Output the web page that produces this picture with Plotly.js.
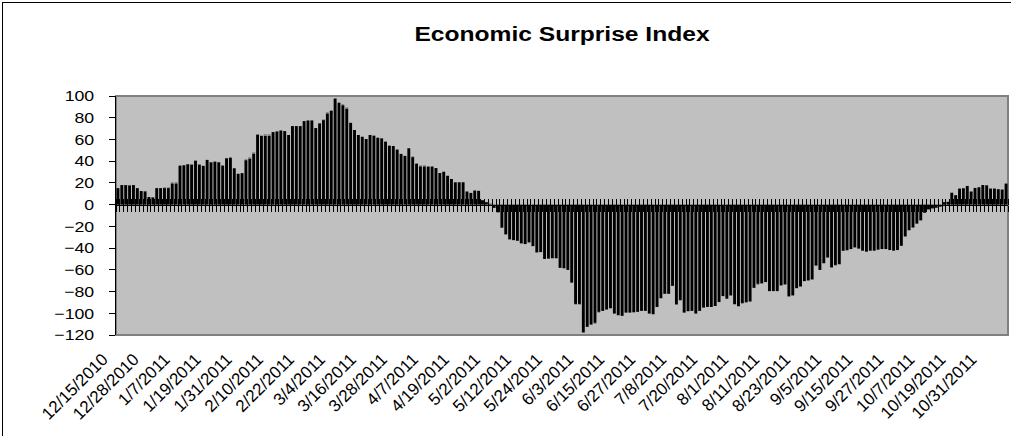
<!DOCTYPE html>
<html>
<head>
<meta charset="utf-8">
<script src="https://cdn.plot.ly/plotly-3.0.1.min.js"></script>
<style>
  html, body { margin: 0; padding: 0; background: #ffffff; }
  #wrap { position: relative; width: 1011px; height: 436px; overflow: hidden; }
  #chart { position: absolute; left: 0; top: 0; width: 1011px; height: 436px; }
  #frame { position: absolute; left: 2px; top: 2px; width: 1030px; height: 460px;
           border: 1px solid #000000; pointer-events: none; }
</style>
</head>
<body>
<div id="wrap">
  <div id="chart"></div>
  <div id="frame"></div>
</div>
<script>
// Economic surprise index, one bar per trading day
const startDate = '2010-12-15';
const skippedDays = ['2010-12-24', '2011-04-22', '2011-07-04', '2011-08-29'];
const labelEvery = 8;

const surprise = [
  15.2, 18, 18, 17.7, 18, 15.2, 12.5, 12.2, 7, 6.7,
  15.2, 15.2, 15.2, 15.2, 19.5, 19.5, 35.7, 36.3, 37.2, 36.9,
  40.5, 36.9, 35.7, 41.2, 39, 39.6, 39, 36, 42.7, 43.3,
  33.5, 28.4, 29, 40.9, 42.4, 47, 64.3, 63.2,
  63.5, 63.5, 66.8, 67.4, 68.3, 67.7, 64.1, 72.3, 72.3, 72.3,
  76.9, 77.5, 77.5, 70.5, 74.8, 77.8, 83.9, 86.3, 97.5, 93.6,
  91.5, 88.4, 75.3, 68.7, 64.1, 62.5, 60.4, 64.1, 63.5, 61.6,
  61, 58, 54.3, 54, 50.7, 46.7, 44.9, 51.9,
  43.7, 37.6, 35.2, 35.2, 34.9, 34.9, 33.7, 29.1, 30.3, 26.6,
  23.6, 20.6, 20.6, 20.6, 12.1, 10.8, 13, 12.7, 4.1, 2.3,
  0.5, -2.9, -6.9, -21.1, -27.2, -31.8, -32.7, -33.3, -35.7, -36.3,
  -34.8, -38.2, -44, -43.7, -50, -49.7, -49.4, -49.4, -58.2,
  -58.6, -60.1, -71.8, -91.4, -91.4, -117.5, -112.4, -110.3, -108.8, -98.7,
  -97.8, -96.6, -95.4, -100.3, -101.8, -102.4, -99.4, -99.4, -99.1, -98.7,
  -97.8, -97.8, -100.3, -100.9, -94.2, -85.9, -82, -82, -74.7, -91.7,
  -88, -99.4, -98.1, -97.8, -100.3, -97.8, -94.8, -94.2,
  -94.2, -93.3, -89.7, -84.2, -86.6, -83.6, -91.7, -93.3, -90.5, -89.7,
  -89, -76.5, -72.9, -72.3, -71.3, -79.6, -79.6, -79.6, -74.4, -73.5,
  -84.5, -83.6, -76.9, -75.4, -70.4, -69.8, -68.9, -56.1, -60.1, -53.7,
  -48.5, -57.6, -55.5, -54.6, -42.4, -41.8, -40.9, -39.4, -40.5,
  -42.4, -43.3, -42.4, -42.4, -41.5, -40.9, -40.9, -41.8, -42.4, -41.8,
  -37.9, -29.3, -23.6, -21.1, -17.5, -14.5, -7.5, -4.4, -3.5, -2.9,
  -1.9, 2.3, 2.6, 11, 8.7, 14.8, 15.1, 17.2, 12.1, 15.4,
  16, 18.1, 17.8, 14.8, 14.8, 14.2, 13.9, 19.4
];

const yRange = [-120, 100];

// Build the trading-day calendar (weekdays minus skipped days)
function buildDates(start, n, skip) {
  const out = [];
  const d = new Date(start + 'T12:00:00Z');
  while (out.length < n) {
    const dow = d.getUTCDay();
    const iso = d.toISOString().slice(0, 10);
    if (dow !== 0 && dow !== 6 && skip.indexOf(iso) < 0) {
      out.push((d.getUTCMonth() + 1) + '/' + d.getUTCDate() + '/' + d.getUTCFullYear());
    }
    d.setUTCDate(d.getUTCDate() + 1);
  }
  return out;
}

const dates = buildDates(startDate, surprise.length, skippedDays);
const idx = dates.map((_, i) => i);
const tickIdx = idx.filter(i => i % labelEvery === 0);
const tickText = tickIdx.map(i => dates[i]);

const FONT = 'Liberation Sans, Arial, sans-serif';
const xRange = [-0.5, dates.length - 0.5];
const zeroPos = (0 - yRange[0]) / (yRange[1] - yRange[0]);

const bars = {
  type: 'bar', x: idx, y: surprise, text: dates,
  marker: { color: '#000000', line: { width: 0 } },
  hoverinfo: 'skip', showlegend: false
};
// carriers for the zero-line category ticks (below and above the line)
const tickCarrierLow = { type: 'scatter', mode: 'markers', x: idx, y: surprise, xaxis: 'x2',
  marker: { opacity: 0 }, hoverinfo: 'skip', showlegend: false };
const tickCarrierHigh = { type: 'scatter', mode: 'markers', x: idx, y: surprise, xaxis: 'x3',
  marker: { opacity: 0 }, hoverinfo: 'skip', showlegend: false };

const zeroAxis = {
  overlaying: 'x', anchor: 'free', position: zeroPos, range: xRange,
  showline: true, linecolor: '#000000', linewidth: 1,
  ticks: 'outside', ticklen: 6, tickwidth: 1, tickcolor: '#000000',
  tickmode: 'linear', tick0: -0.5, dtick: 1,
  showticklabels: false, showgrid: false, zeroline: false
};

const layout = {
  width: 1011, height: 436,
  margin: { l: 116, r: 3, t: 96, b: 101, pad: 0 },
  paper_bgcolor: '#ffffff', plot_bgcolor: '#c0c0c0',
  bargap: 0.25,
  font: { family: FONT, color: '#000000' },
  title: {
    text: 'Economic Surprise Index',
    font: { family: FONT, size: 20, weight: 'bold', color: '#000000' },
    x: 0.5, xref: 'paper', xanchor: 'center',
    y: 1 - 34 / 436, yref: 'container', yanchor: 'middle'
  },
  xaxis: {
    range: xRange, tickmode: 'array', tickvals: tickIdx, ticktext: tickText,
    tickangle: -45, tickfont: { family: FONT, size: 17, color: '#000000' },
    ticklabelshift: -15, ticklabelstandoff: 10,
    ticks: '', showline: false, showgrid: false, zeroline: false
  },
  xaxis2: Object.assign({ side: 'bottom' }, zeroAxis),
  xaxis3: Object.assign({ side: 'top' }, zeroAxis),
  yaxis: {
    range: yRange, tickmode: 'linear', tick0: -120, dtick: 20,
    ticks: 'outside', ticklen: 6, tickcolor: '#000000',
    showline: true, linecolor: '#000000', linewidth: 1,
    showgrid: false, zeroline: false, ticklabelstandoff: 10,
    tickfont: { family: FONT, size: 15, color: '#000000' }
  },
  shapes: [{
    type: 'rect', xref: 'paper', yref: 'paper', x0: 0, x1: 1, y0: 0, y1: 1,
    line: { color: '#808080', width: 2 }, layer: 'below'
  }]
};

// widen a text element horizontally about its own anchor x
function widen(textEl, factor) {
  const ax = parseFloat(textEl.getAttribute('x')) || 0;
  const prev = textEl.getAttribute('transform') || '';
  textEl.setAttribute('transform',
    'translate(' + ax + ',0) scale(' + factor + ',1) translate(' + (-ax) + ',0) ' + prev);
}

Plotly.newPlot('chart', [bars, tickCarrierLow, tickCarrierHigh], layout,
  { staticPlot: true, displayModeBar: false }).then(function (gd) {
  const title = gd.querySelector('text.gtitle');
  if (title) widen(title, 1.23);
  gd.querySelectorAll('g.ytick text').forEach(function (t) { widen(t, 1.18); });
});
</script>
</body>
</html>
